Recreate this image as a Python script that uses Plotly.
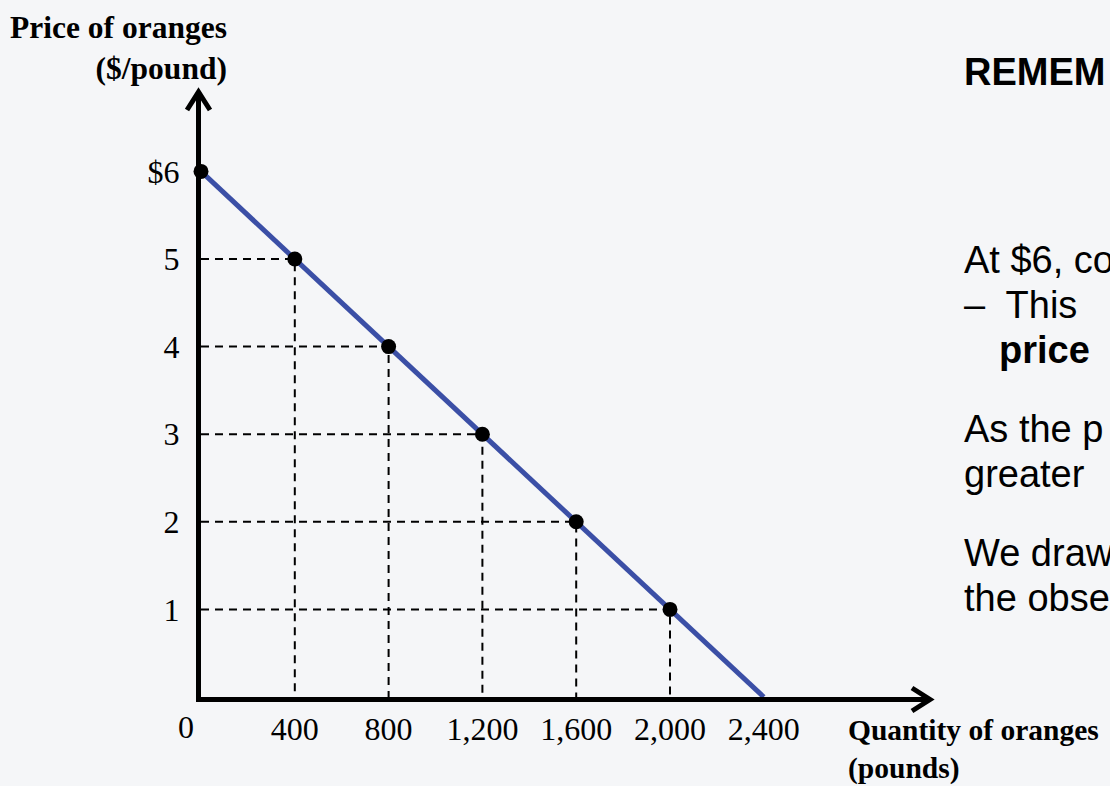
import plotly.graph_objects as go

# Demand schedule for oranges
quantity = [0, 400, 800, 1200, 1600, 2000, 2400]
price = [6, 5, 4, 3, 2, 1, 0]

x_tick_vals = [400, 800, 1200, 1600, 2000, 2400]
x_tick_text = ["400", "800", "1,200", "1,600", "2,000", "2,400"]
y_tick_vals = [1, 2, 3, 4, 5, 6]
y_tick_text = ["1", "2", "3", "4", "5", "$6"]

# text column on the right: (text, indent, vertical centre in px)
side_lines = [
    ("<b>REMEM</b>", 0, 72),
    ("At $6, co", 0, 260),
    ("–  This", 0, 305),
    ("<b>price</b>", 35, 350),
    ("As the p", 0, 429),
    ("greater", 0, 474),
    ("We draw", 0, 553),
    ("the obse", 0, 598),
]

W, H = 1110, 786
L, R, T, B = 201, 180, 92, 89
PW, PH = W - L - R, H - T - B
X_MAX = PW / 0.2345
Y_MAX = PH / 87.6

SERIF = "Liberation Serif"
SANS = "Liberation Sans"
BLUE = "#3b4fa6"
TEXT_X = 962


def px_x(p):
    return (p - L) / PW


def px_y(p):
    return (H - B - p) / PH


fig = go.Figure()

# dashed guides from each point to both axes
for q, p in zip(quantity[1:-1], price[1:-1]):
    fig.add_trace(go.Scatter(
        x=[0, q, q], y=[p, p, 0], mode="lines",
        line=dict(color="black", width=2, dash="8px,6px"),
        cliponaxis=False, hoverinfo="skip", showlegend=False))

# demand curve
fig.add_trace(go.Scatter(
    x=quantity, y=price, mode="lines",
    line=dict(color=BLUE, width=5),
    cliponaxis=False, hoverinfo="skip", showlegend=False))

# observed points
fig.add_trace(go.Scatter(
    x=quantity[:-1], y=price[:-1], mode="markers",
    marker=dict(color="black", size=15),
    cliponaxis=False, hoverinfo="skip", showlegend=False))

axis_common = dict(
    showline=True, linewidth=5, linecolor="black",
    showgrid=False, zeroline=False, ticks="",
    tickfont=dict(family=SERIF, size=32, color="black"),
)

fig.update_layout(
    width=W, height=H,
    margin=dict(l=L, r=R, t=T, b=B),
    paper_bgcolor="#f5f6f8",
    plot_bgcolor="rgba(0,0,0,0)",
    showlegend=False,
    xaxis=dict(range=[0, X_MAX], tickvals=x_tick_vals, ticktext=x_tick_text,
               ticklabelstandoff=0, **axis_common),
    yaxis=dict(range=[0, Y_MAX], tickvals=y_tick_vals, ticktext=y_tick_text,
               ticklabelstandoff=10, **axis_common),
)

# arrowheads at the axis ends
arrow_style = dict(type="path", xref="paper", yref="paper",
                   xsizemode="pixel", ysizemode="pixel",
                   line=dict(color="black", width=5), layer="above")
fig.add_shape(xanchor=1, yanchor=0,
              path="M -18,9 L 0,-2.5 L -18,-14", **arrow_style)
fig.add_shape(xanchor=0, yanchor=1,
              path="M -14,-18 L -2.5,0 L 9,-18", **arrow_style)

annotations = [
    dict(text="0", x=px_x(186), y=px_y(727), xanchor="center", yanchor="middle",
         font=dict(family=SERIF, size=32, color="black")),
    dict(text="<b>Price of oranges</b><br><b>($/pound)</b>", x=px_x(229), y=px_y(48),
         xanchor="right", yanchor="middle", align="right",
         font=dict(family=SERIF, size=31.5, color="black")),
    dict(text="<b>Quantity of oranges</b><br><b>(pounds)</b>", x=px_x(846), y=px_y(749),
         xanchor="left", yanchor="middle", align="left",
         font=dict(family=SERIF, size=29.5, color="black")),
]
for text, indent, yc in side_lines:
    annotations.append(dict(text=text, x=px_x(TEXT_X + indent), y=px_y(yc),
                            xanchor="left", yanchor="middle", align="left",
                            font=dict(family=SANS, size=38, color="black")))
for a in annotations:
    a.update(xref="paper", yref="paper", showarrow=False)
fig.update_layout(annotations=annotations)

fig.write_html("out.html")
